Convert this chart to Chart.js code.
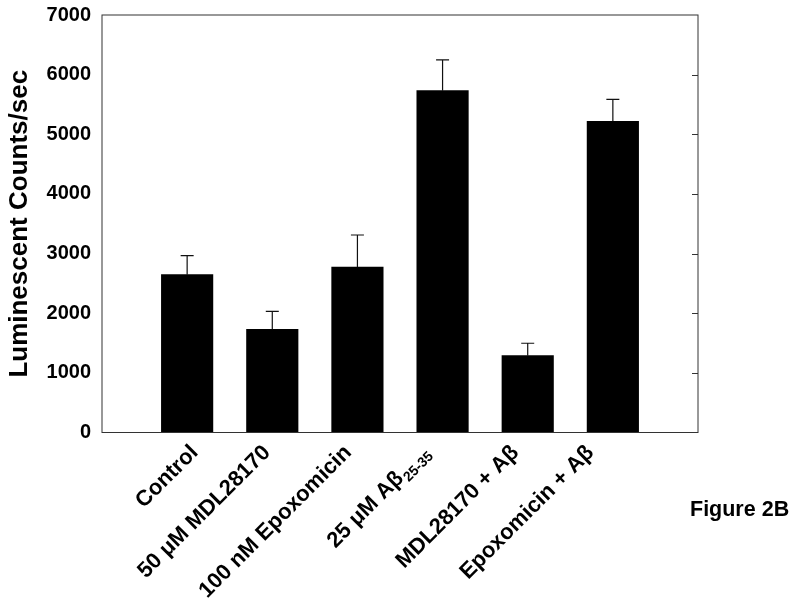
<!DOCTYPE html>
<html>
<head>
<meta charset="utf-8">
<script src="https://cdn.jsdelivr.net/npm/chart.js@4"></script>
<style>
  html,body{margin:0;padding:0;background:#fff;}
  #wrap{width:800px;height:609px;}
</style>
</head>
<body>
<div id="wrap"><canvas id="c" width="800" height="609"></canvas></div>
<script>
/* ========= DATA ========= */
const categories = ['Control', '50 μM MDL28170', '100 nM Epoxomicin', '25 μM Aβ', 'MDL28170 + Aβ', 'Epoxomicin + Aβ'];
const subscripts = ['', '', '', '25-35', '', ''];
const means      = [2646, 1730, 2775, 5731, 1288, 5218];
const errors     = [318, 302, 536, 515, 208, 369];
const yMax = 7000, yStep = 1000;

const FONT = "'Liberation Sans', Arial, Helvetica, sans-serif";

// pad the category axis with an empty slot at each end
const labels = [''].concat(categories, ['']);
const values = [null].concat(means, [null]);

/* ========= PLUGIN ========= */
// label nudges along x (the original labels are hand placed, not strictly aligned)
const labelNudge = [12, -1, -5, -12, -8, -18];

const extras = {
  id: 'extras',
  afterDatasetsDraw(chart) {
    const {ctx, chartArea: a, scales: {x, y}} = chart;
    ctx.save();
    // error bars (upper only)
    ctx.strokeStyle = '#111'; ctx.lineWidth = 1.2;
    means.forEach((m, i) => {
      const px = x.getPixelForValue(i + 1);
      const y0 = y.getPixelForValue(m), y1 = y.getPixelForValue(m + errors[i]);
      ctx.beginPath();
      ctx.moveTo(px, y0); ctx.lineTo(px, y1);
      ctx.moveTo(px - 6.5, y1); ctx.lineTo(px + 6.5, y1);
      ctx.stroke();
    });
    // frame
    ctx.strokeStyle = '#333'; ctx.lineWidth = 1;
    ctx.strokeRect(a.left, a.top, a.right - a.left, a.bottom - a.top);
    // inward ticks on right side
    for (let v = yStep; v < yMax; v += yStep) {
      const py = Math.round(y.getPixelForValue(v)) + 0.5;
      ctx.beginPath(); ctx.moveTo(a.right - 6, py); ctx.lineTo(a.right, py); ctx.stroke();
    }
    ctx.restore();
  },
  afterDraw(chart) {
    const {ctx, chartArea: a, scales: {x}} = chart;
    ctx.save();
    ctx.fillStyle = '#000';
    categories.forEach((c, i) => {
      const px = x.getPixelForValue(i + 1);
      ctx.save();
      ctx.translate(px + labelNudge[i], a.bottom + 21);
      ctx.rotate(-Math.PI / 4);
      ctx.font = 'bold 22px ' + FONT;
      const wMain = ctx.measureText(c).width;
      let wSub = 0;
      if (subscripts[i]) {
        ctx.font = 'bold 14px ' + FONT;
        wSub = ctx.measureText(subscripts[i]).width;
        ctx.fillText(subscripts[i], -wSub, 5);
      }
      ctx.font = 'bold 22px ' + FONT;
      ctx.textAlign = 'left';
      ctx.fillText(c, -wSub - wMain - (wSub ? 1 : 0), 0);
      ctx.restore();
    });
    ctx.font = 'bold 21.5px ' + FONT;
    ctx.fillText('Figure 2B', 690, 516);
    ctx.restore();
  }
};

/* ========= CHART ========= */
new Chart(document.getElementById('c'), {
  type: 'bar',
  data: {
    labels,
    datasets: [{
      data: values,
      backgroundColor: '#000',
      borderWidth: 0,
      barThickness: 51.5
    }]
  },
  options: {
    responsive: false,
    animation: false,
    layout: {padding: {top: 15, right: 102, bottom: 0, left: 0}},
    plugins: {legend: {display: false}, tooltip: {enabled: false}},
    scales: {
      x: {
        offset: false,
        grid: {display: false, drawTicks: false},
        border: {display: false},
        ticks: {display: false},
        afterFit(s) { s.height = 176.5; }
      },
      y: {
        min: 0, max: yMax,
        grid: {display: false, drawTicks: false},
        border: {display: false},
        ticks: {stepSize: yStep, color: '#000', padding: 11, callback: v => String(v),
                font: {family: FONT, size: 20, weight: 'bold'}},
        title: {display: true, text: 'Luminescent Counts/sec', color: '#000',
                font: {family: FONT, size: 26, weight: 'bold'}, padding: {top: 4, bottom: 0}},
        afterFit(s) { s.width = 102; s.paddingTop = 0; s.paddingBottom = 0; }
      }
    }
  },
  plugins: [extras]
});
</script>
</body>
</html>
